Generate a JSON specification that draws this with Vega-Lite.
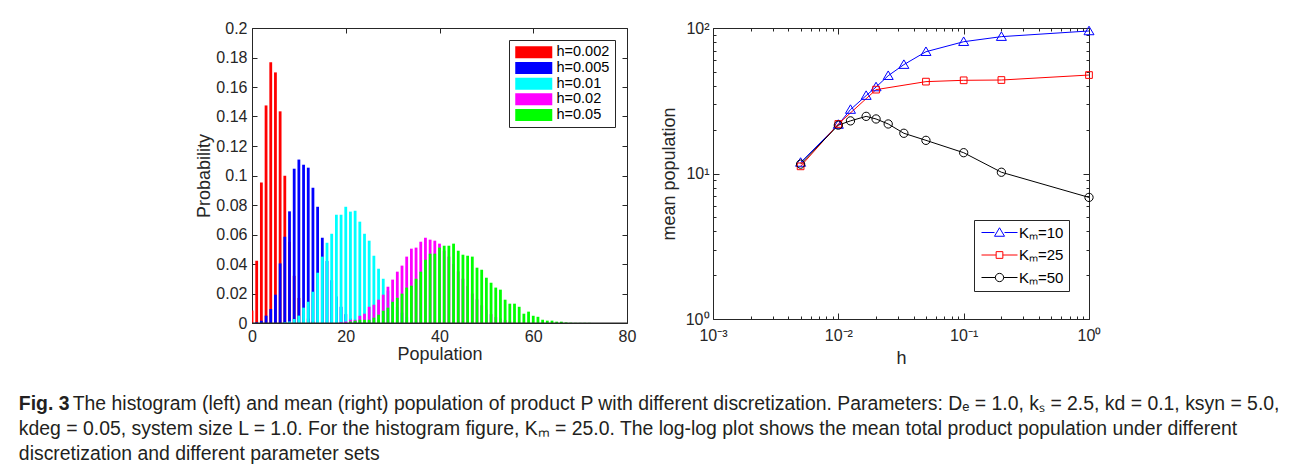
{
  "$schema": "https://vega.github.io/schema/vega-lite/v6.json",
  "background": "white",
  "padding": {"left": 18, "top": 20, "right": 5, "bottom": 10},
  "config": {
    "font": "Liberation Sans",
    "view": {"stroke": null},
    "axis": {
      "grid": false, "labelFlush": false,
      "domainColor": "#262626", "tickColor": "#262626",
      "labelColor": "#262626", "titleColor": "#262626",
      "labelFont": "Liberation Sans", "titleFont": "Liberation Sans",
      "labelFontSize": 16, "titleFontSize": 18, "titleFontWeight": "normal"
    }
  },
  "title": {
    "text": "Fig. 3",
    "subtitle": [
      "\u200b\u00a0\u00a0\u00a0\u00a0\u00a0\u00a0\u00a0\u00a0\u00a0\u00a0The histogram (left) and mean (right) population of product P with different discretization. Parameters: Dₑ = 1.0, kₛ = 2.5, kd = 0.1, ksyn = 5.0,",
      "kdeg = 0.05, system size L = 1.0. For the histogram figure, Kₘ = 25.0. The log-log plot shows the mean total product population under different",
      "discretization and different parameter sets"
    ],
    "orient": "bottom", "anchor": "start", "frame": "bounds",
    "dx": -177, "offset": 28,
    "font": "Liberation Sans", "fontSize": 19.4, "fontWeight": "bold", "color": "#231f20",
    "subtitleFont": "Liberation Sans", "subtitleFontSize": 19.4, "subtitleColor": "#231f20",
    "subtitleLineHeight": 25, "subtitlePadding": -19.4
  },
  "datasets": {
    "hist": [
      {"s":"h=0.002","k":0,"p":0.0085},{"s":"h=0.002","k":1,"p":0.0422},{"s":"h=0.002","k":2,"p":0.0953},{"s":"h=0.002","k":3,"p":0.1475},{"s":"h=0.002","k":4,"p":0.1767},{"s":"h=0.002","k":5,"p":0.1699},{"s":"h=0.002","k":6,"p":0.1435},{"s":"h=0.002","k":7,"p":0.0999},{"s":"h=0.002","k":8,"p":0.055},{"s":"h=0.002","k":9,"p":0.032},{"s":"h=0.002","k":10,"p":0.017},{"s":"h=0.002","k":11,"p":0.008},{"s":"h=0.002","k":12,"p":0.003},{"s":"h=0.002","k":13,"p":0.001},
      {"s":"h=0.005","k":1,"p":0.0005},{"s":"h=0.005","k":2,"p":0.0015},{"s":"h=0.005","k":3,"p":0.005},{"s":"h=0.005","k":4,"p":0.0095},{"s":"h=0.005","k":5,"p":0.0192},{"s":"h=0.005","k":6,"p":0.0404},{"s":"h=0.005","k":7,"p":0.0585},{"s":"h=0.005","k":8,"p":0.0757},{"s":"h=0.005","k":9,"p":0.1046},{"s":"h=0.005","k":10,"p":0.1108},{"s":"h=0.005","k":11,"p":0.1073},{"s":"h=0.005","k":12,"p":0.1053},{"s":"h=0.005","k":13,"p":0.0917},{"s":"h=0.005","k":14,"p":0.0788},{"s":"h=0.005","k":15,"p":0.0578},{"s":"h=0.005","k":16,"p":0.042},{"s":"h=0.005","k":17,"p":0.029},{"s":"h=0.005","k":18,"p":0.018},{"s":"h=0.005","k":19,"p":0.011},{"s":"h=0.005","k":20,"p":0.006},{"s":"h=0.005","k":21,"p":0.003},{"s":"h=0.005","k":22,"p":0.0015},{"s":"h=0.005","k":23,"p":0.0005},
      {"s":"h=0.01","k":7,"p":0.0005},{"s":"h=0.01","k":8,"p":0.001},{"s":"h=0.01","k":9,"p":0.0027},{"s":"h=0.01","k":10,"p":0.005},{"s":"h=0.01","k":11,"p":0.0104},{"s":"h=0.01","k":12,"p":0.0144},{"s":"h=0.01","k":13,"p":0.0212},{"s":"h=0.01","k":14,"p":0.0341},{"s":"h=0.01","k":15,"p":0.045},{"s":"h=0.01","k":16,"p":0.0544},{"s":"h=0.01","k":17,"p":0.0605},{"s":"h=0.01","k":18,"p":0.0734},{"s":"h=0.01","k":19,"p":0.0734},{"s":"h=0.01","k":20,"p":0.0788},{"s":"h=0.01","k":21,"p":0.0755},{"s":"h=0.01","k":22,"p":0.0761},{"s":"h=0.01","k":23,"p":0.0687},{"s":"h=0.01","k":24,"p":0.0605},{"s":"h=0.01","k":25,"p":0.0558},{"s":"h=0.01","k":26,"p":0.0456},{"s":"h=0.01","k":27,"p":0.0368},{"s":"h=0.01","k":28,"p":0.03},{"s":"h=0.01","k":29,"p":0.022},{"s":"h=0.01","k":30,"p":0.016},{"s":"h=0.01","k":31,"p":0.011},{"s":"h=0.01","k":32,"p":0.007},{"s":"h=0.01","k":33,"p":0.004},{"s":"h=0.01","k":34,"p":0.002},{"s":"h=0.01","k":35,"p":0.001},
      {"s":"h=0.02","k":19,"p":0.0005},{"s":"h=0.02","k":20,"p":0.001},{"s":"h=0.02","k":21,"p":0.0022},{"s":"h=0.02","k":22,"p":0.0022},{"s":"h=0.02","k":23,"p":0.0049},{"s":"h=0.02","k":24,"p":0.0063},{"s":"h=0.02","k":25,"p":0.011},{"s":"h=0.02","k":26,"p":0.0124},{"s":"h=0.02","k":27,"p":0.0158},{"s":"h=0.02","k":28,"p":0.0192},{"s":"h=0.02","k":29,"p":0.0246},{"s":"h=0.02","k":30,"p":0.0294},{"s":"h=0.02","k":31,"p":0.0348},{"s":"h=0.02","k":32,"p":0.0389},{"s":"h=0.02","k":33,"p":0.045},{"s":"h=0.02","k":34,"p":0.0504},{"s":"h=0.02","k":35,"p":0.0511},{"s":"h=0.02","k":36,"p":0.0551},{"s":"h=0.02","k":37,"p":0.0578},{"s":"h=0.02","k":38,"p":0.0565},{"s":"h=0.02","k":39,"p":0.0558},{"s":"h=0.02","k":40,"p":0.0538},{"s":"h=0.02","k":41,"p":0.049},{"s":"h=0.02","k":42,"p":0.045},{"s":"h=0.02","k":43,"p":0.04},{"s":"h=0.02","k":44,"p":0.035},{"s":"h=0.02","k":45,"p":0.03},{"s":"h=0.02","k":46,"p":0.025},{"s":"h=0.02","k":47,"p":0.02},{"s":"h=0.02","k":48,"p":0.016},{"s":"h=0.02","k":49,"p":0.012},{"s":"h=0.02","k":50,"p":0.009},{"s":"h=0.02","k":51,"p":0.006},{"s":"h=0.02","k":52,"p":0.004},{"s":"h=0.02","k":53,"p":0.003},{"s":"h=0.02","k":54,"p":0.002},{"s":"h=0.02","k":55,"p":0.001},
      {"s":"h=0.05","k":21,"p":0.001},{"s":"h=0.05","k":22,"p":0.0015},{"s":"h=0.05","k":23,"p":0.0022},{"s":"h=0.05","k":24,"p":0.0022},{"s":"h=0.05","k":25,"p":0.0022},{"s":"h=0.05","k":26,"p":0.0036},{"s":"h=0.05","k":27,"p":0.0056},{"s":"h=0.05","k":28,"p":0.0083},{"s":"h=0.05","k":29,"p":0.0104},{"s":"h=0.05","k":30,"p":0.0144},{"s":"h=0.05","k":31,"p":0.0171},{"s":"h=0.05","k":32,"p":0.0199},{"s":"h=0.05","k":33,"p":0.024},{"s":"h=0.05","k":34,"p":0.0253},{"s":"h=0.05","k":35,"p":0.03},{"s":"h=0.05","k":36,"p":0.0348},{"s":"h=0.05","k":37,"p":0.0429},{"s":"h=0.05","k":38,"p":0.047},{"s":"h=0.05","k":39,"p":0.047},{"s":"h=0.05","k":40,"p":0.0511},{"s":"h=0.05","k":41,"p":0.0524},{"s":"h=0.05","k":42,"p":0.0524},{"s":"h=0.05","k":43,"p":0.0538},{"s":"h=0.05","k":44,"p":0.049},{"s":"h=0.05","k":45,"p":0.0463},{"s":"h=0.05","k":46,"p":0.0456},{"s":"h=0.05","k":47,"p":0.045},{"s":"h=0.05","k":48,"p":0.0375},{"s":"h=0.05","k":49,"p":0.0361},{"s":"h=0.05","k":50,"p":0.0307},{"s":"h=0.05","k":51,"p":0.0273},{"s":"h=0.05","k":52,"p":0.024},{"s":"h=0.05","k":53,"p":0.0226},{"s":"h=0.05","k":54,"p":0.0158},{"s":"h=0.05","k":55,"p":0.0131},{"s":"h=0.05","k":56,"p":0.0131},{"s":"h=0.05","k":57,"p":0.011},{"s":"h=0.05","k":58,"p":0.0063},{"s":"h=0.05","k":59,"p":0.0077},{"s":"h=0.05","k":60,"p":0.0049},{"s":"h=0.05","k":61,"p":0.0042},{"s":"h=0.05","k":62,"p":0.0022},{"s":"h=0.05","k":63,"p":0.0016},{"s":"h=0.05","k":64,"p":0.0016},{"s":"h=0.05","k":65,"p":0.0009},{"s":"h=0.05","k":66,"p":0.0009},{"s":"h=0.05","k":67,"p":0.0004},{"s":"h=0.05","k":68,"p":0.0002},{"s":"h=0.05","k":69,"p":0.0001},{"s":"h=0.05","k":70,"p":0.0001},{"s":"h=0.05","k":71,"p":0.0001},{"s":"h=0.05","k":72,"p":0.0001}
    ],
    "mean": [
      {"Km":"10","h":0.005,"m":11.9},{"Km":"10","h":0.01,"m":21.7},{"Km":"10","h":0.0125,"m":27.5},{"Km":"10","h":0.01667,"m":34.3},{"Km":"10","h":0.02,"m":39.3},{"Km":"10","h":0.025,"m":47},{"Km":"10","h":0.03333,"m":56},{"Km":"10","h":0.05,"m":68.7},{"Km":"10","h":0.1,"m":80.5},{"Km":"10","h":0.2,"m":87.2},{"Km":"10","h":1,"m":95.4},
      {"Km":"25","h":0.005,"m":11.2},{"Km":"25","h":0.01,"m":21.9},{"Km":"25","h":0.02,"m":37.7},{"Km":"25","h":0.05,"m":42.8},{"Km":"25","h":0.1,"m":43.7},{"Km":"25","h":0.2,"m":43.9},{"Km":"25","h":1,"m":47.5},
      {"Km":"50","h":0.005,"m":11.6},{"Km":"50","h":0.01,"m":21.5},{"Km":"50","h":0.0125,"m":23},{"Km":"50","h":0.01667,"m":24.7},{"Km":"50","h":0.02,"m":23.7},{"Km":"50","h":0.025,"m":21.9},{"Km":"50","h":0.03333,"m":18.9},{"Km":"50","h":0.05,"m":16.9},{"Km":"50","h":0.1,"m":13.9},{"Km":"50","h":0.2,"m":10.2},{"Km":"50","h":1,"m":6.85}
    ]
  },
  "resolve": {"scale": {"color": "independent"}, "legend": {"color": "independent"}},
  "spacing": 24,
  "hconcat": [
    {
      "width": 375, "height": 295,
      "layer": [
        {
          "data": {"name": "hist"},
          "mark": {"type": "bar", "orient": "vertical", "size": 2.8, "clip": true},
          "encoding": {
            "x": {"field": "k", "type": "quantitative", "scale": {"domain": [0, 80], "nice": false, "padding": 0},
                  "axis": {"orient": "bottom", "values": [0, 20, 40, 60, 80], "title": "Population", "tickSize": -5, "labelPadding": 10, "titlePadding": 1}},
            "y": {"field": "p", "type": "quantitative", "stack": null, "scale": {"domain": [0, 0.2], "nice": false},
                  "axis": {"orient": "left", "values": [0, 0.02, 0.04, 0.06, 0.08, 0.1, 0.12, 0.14, 0.16, 0.18, 0.2], "format": ".2~f", "title": "Probability", "tickSize": -5, "labelPadding": 10, "titlePadding": 2}},
            "color": {"field": "s", "type": "nominal",
                      "scale": {"domain": ["h=0.002", "h=0.005", "h=0.01", "h=0.02", "h=0.05"], "range": ["#ff0000", "#0000ff", "#00ffff", "#ff00ff", "#00ff00"]},
                      "legend": {"orient": "top-right", "offset": 12, "title": null, "symbolType": "M-1,-1H5.17V1H-1Z", "symbolSize": 144, "symbolStrokeWidth": 0, "labelFontSize": 14.5, "labelFont": "Liberation Sans", "labelColor": "#000000", "labelOffset": 28, "strokeColor": "#262626", "fillColor": "white", "padding": 5, "rowPadding": 0.7}}
          }
        },
        {
          "data": {"values": [{}]},
          "mark": {"type": "rule", "color": "#262626", "strokeWidth": 1},
          "encoding": {
            "x": {"datum": 0, "type": "quantitative", "axis": {"orient": "top", "values": [0, 20, 40, 60, 80], "labels": false, "title": null, "tickSize": -5}},
            "x2": {"datum": 80},
            "y": {"datum": 0, "type": "quantitative", "axis": {"orient": "right", "values": [0, 0.02, 0.04, 0.06, 0.08, 0.1, 0.12, 0.14, 0.16, 0.18, 0.2], "labels": false, "title": null, "tickSize": -5}}
          }
        }
      ],
      "resolve": {"axis": {"x": "independent", "y": "independent"}}
    },
    {
      "width": 376, "height": 291,
      "data": {"name": "mean"},
      "layer": [
        {
          "mark": {"type": "line", "strokeWidth": 1},
          "encoding": {
            "x": {"field": "h", "type": "quantitative", "scale": {"type": "log", "domain": [0.001, 1], "nice": false},
                  "axis": {"orient": "bottom", "title": "h", "titlePadding": 6, "labelPadding": 14,
                           "values": [0.001,0.002,0.003,0.004,0.005,0.006,0.007,0.008,0.009,0.01,0.02,0.03,0.04,0.05,0.06,0.07,0.08,0.09,0.1,0.2,0.3,0.4,0.5,0.6,0.7,0.8,0.9,1],
                           "labelExpr": "abs(log(datum.value)/LN10 - round(log(datum.value)/LN10)) < 0.001 ? '10' + (round(log(datum.value)/LN10) < 0 ? '⁻' : '') + ['⁰','¹','²','³'][abs(round(log(datum.value)/LN10))] : ''",
                           "tickSize": {"condition": {"test": "abs(log(datum.value)/LN10 - round(log(datum.value)/LN10)) < 0.001", "value": -6}, "value": -3}}},
            "y": {"field": "m", "type": "quantitative", "scale": {"type": "log", "domain": [1, 100], "nice": false},
                  "axis": {"orient": "left", "title": "mean population", "titlePadding": 7, "labelPadding": 10,
                           "values": [1,2,3,4,5,6,7,8,9,10,20,30,40,50,60,70,80,90,100],
                           "labelExpr": "abs(log(datum.value)/LN10 - round(log(datum.value)/LN10)) < 0.001 ? '10' + ['⁰','¹','²','³'][abs(round(log(datum.value)/LN10))] : ''",
                           "tickSize": {"condition": {"test": "abs(log(datum.value)/LN10 - round(log(datum.value)/LN10)) < 0.001", "value": -6}, "value": -3}}},
            "color": {"field": "Km", "type": "nominal", "scale": {"domain": ["10", "25", "50"], "range": ["#0000ff", "#ff0000", "#000000"]}, "legend": null}
          }
        },
        {
          "mark": {"type": "point", "filled": false, "opacity": 1, "size": 100, "strokeWidth": 1},
          "encoding": {
            "x": {"field": "h", "type": "quantitative",
                  "axis": {"orient": "top", "labels": false, "title": null,
                           "values": [0.001,0.002,0.003,0.004,0.005,0.006,0.007,0.008,0.009,0.01,0.02,0.03,0.04,0.05,0.06,0.07,0.08,0.09,0.1,0.2,0.3,0.4,0.5,0.6,0.7,0.8,0.9,1],
                           "tickSize": {"condition": {"test": "abs(log(datum.value)/LN10 - round(log(datum.value)/LN10)) < 0.001", "value": -6}, "value": -3}}},
            "y": {"field": "m", "type": "quantitative",
                  "axis": {"orient": "right", "labels": false, "title": null,
                           "values": [1,2,3,4,5,6,7,8,9,10,20,30,40,50,60,70,80,90,100],
                           "tickSize": {"condition": {"test": "abs(log(datum.value)/LN10 - round(log(datum.value)/LN10)) < 0.001", "value": -6}, "value": -3}}},
            "color": {"field": "Km", "type": "nominal", "legend": null},
            "shape": {"field": "Km", "type": "nominal", "legend": null,
                      "scale": {"domain": ["10", "25", "50"], "range": ["M0,-0.95L1,0.75H-1Z", "M-0.67,-0.67H0.67V0.67H-0.67Z", "M0.83,0A0.83,0.83 0 1,1 -0.83,0A0.83,0.83 0 1,1 0.83,0Z"]}}
          }
        },
        {
          "transform": [{"filter": "datum.m < 0"}],
          "mark": {"type": "point", "filled": false, "opacity": 1, "size": 100, "strokeWidth": 1},
          "encoding": {
            "shape": {"field": "Km", "type": "nominal",
                      "scale": {"domain": ["10", "25", "50"], "range": ["M-1,0H1.6M3.6,0H6.2M2.6,-0.95L3.6,0.75H1.6Z", "M-1,0H1.93M3.27,0H6.2M1.93,-0.67H3.27V0.67H1.93Z", "M-1,0H1.77M3.43,0H6.2M3.43,0A0.83,0.83 0 1,1 1.77,0A0.83,0.83 0 1,1 3.43,0Z"]},
                      "legend": {"orient": "none", "legendX": 261, "legendY": 192, "title": null, "labelExpr": "'Kₘ=' + datum.label", "symbolSize": 100, "symbolStrokeWidth": 1, "labelFontSize": 15, "labelFont": "Liberation Sans", "labelColor": "#000000", "labelOffset": 25, "strokeColor": "#262626", "fillColor": "white", "padding": 5, "rowPadding": 6.5}},
            "stroke": {"field": "Km", "type": "nominal",
                       "scale": {"domain": ["10", "25", "50"], "range": ["#0000ff", "#ff0000", "#000000"]},
                       "legend": {"orient": "none", "legendX": 261, "legendY": 192, "title": null, "labelExpr": "'Kₘ=' + datum.label", "symbolSize": 100, "symbolStrokeWidth": 1, "labelFontSize": 15, "labelFont": "Liberation Sans", "labelColor": "#000000", "labelOffset": 25, "strokeColor": "#262626", "fillColor": "white", "padding": 5, "rowPadding": 6.5}}
          }
        }
      ],
      "resolve": {"scale": {"shape": "independent", "stroke": "independent"}, "legend": {"shape": "independent", "stroke": "independent"}, "axis": {"x": "independent", "y": "independent"}}
    }
  ]
}
